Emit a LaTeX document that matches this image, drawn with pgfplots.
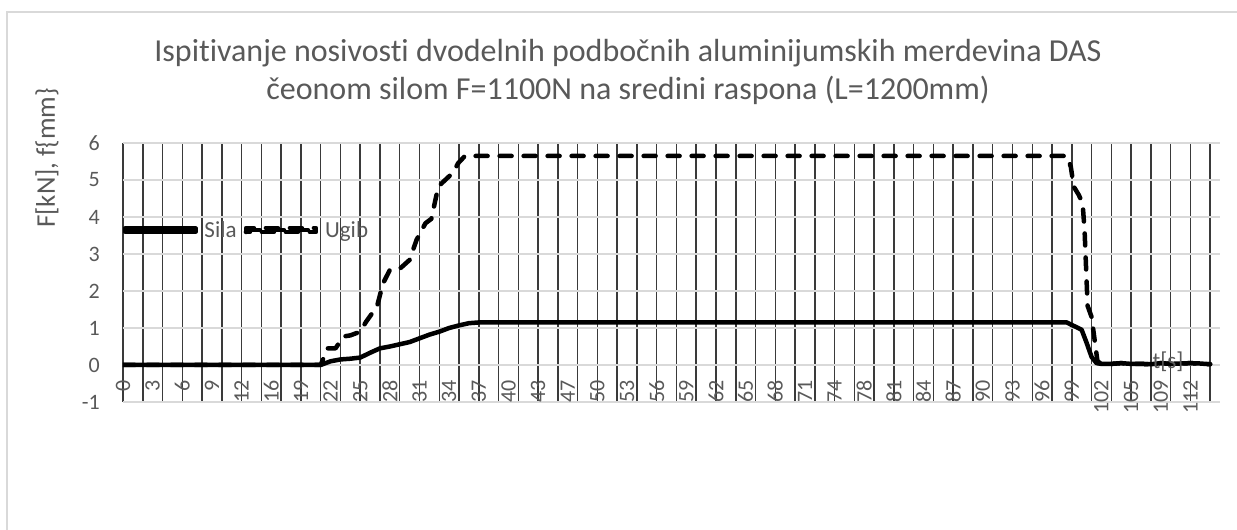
\documentclass[border=0pt]{standalone}
\usepackage{fontspec}
\setmainfont{Carlito}[Ligatures=NoCommon]
\usepackage{pgfplots}
\pgfplotsset{compat=1.18}
\definecolor{txt}{HTML}{595959}
\definecolor{hgrid}{HTML}{D9D9D9}
\definecolor{vgrid}{HTML}{3A3A3A}
\begin{document}
\begin{tikzpicture}[x=1bp,y=1bp]
\path[use as bounding box] (-123,-128) rectangle (1114,402);
\draw[hgrid, line width=1.5bp] (-116,-128) -- (-116,390) -- (1114,390);
\begin{axis}[
  at={(0,0)}, anchor=south west,
  scale only axis, width=1097bp, height=259bp,
  xmin=0, xmax=111, ymin=-1, ymax=6,
  axis line style={draw=none},
  major tick length=0pt, minor tick length=0pt,
  xtick={0,3,...,108},
  xticklabels={0,3,6,9,12,16,19,22,25,28,31,34,37,40,43,47,50,53,56,59,62,65,68,71,74,78,81,84,87,90,93,96,99,102,105,109,112},
  minor xtick={0,2,...,110},
  xmajorgrids=false, xminorgrids=true,
  minor x grid style={vgrid, line width=1.5bp},
  ytick={-1,0,...,6},
  yticklabels={-1,0,1,2,3,4,5,6},
  ymajorgrids=true,
  major y grid style={hgrid, line width=1.3bp},
  x tick label style={yshift=22bp, rotate=90, anchor=east, inner sep=0pt, text=txt, font=\fontsize{22bp}{26bp}\selectfont},
  y tick label style={xshift=-23bp, anchor=east, inner sep=0pt, text=txt, font=\fontsize{22bp}{26bp}\selectfont},
  legend columns=2,
  legend style={at={(0,0.664)}, anchor=west, draw=none, fill=none, inner sep=0pt, outer sep=0pt,
    nodes={inner sep=0pt, text=txt, font=\fontsize{23bp}{27bp}\selectfont},
    /tikz/every odd column/.append style={column sep=7bp},
    /tikz/every even column/.append style={column sep=7bp}},
  legend image code/.code={\path (0bp,-2bp) rectangle (70bp,2bp); \draw[#1] (2bp,0bp) -- (68bp,0bp);},
]
\addplot[black, line width=4.5bp, line join=round, line cap=round] coordinates {
(0,0)(1,0)(2,0)(3,0)(4,0)(5,0)(6,0)(7,0)(8,0)(9,0)(10,0)(11,0)(12,0)(13,0)(14,0)(15,0)(16,0)(17,0)(18,0)(19,0)(20,0)
(21,0.1)(22,0.15)(23,0.17)(24,0.2)(25,0.33)(26,0.45)(27,0.5)(28,0.56)(29,0.62)(30,0.72)(31,0.82)(32,0.9)(33,1.0)(34,1.07)(35,1.13)
(36,1.15)(40,1.15)(45,1.15)(50,1.15)(55,1.15)(60,1.15)(65,1.15)(70,1.15)(75,1.15)(80,1.15)(85,1.15)(90,1.15)(95,1.15)(95.5,1.15)
(96,1.08)(96.5,1.02)(97,0.95)(97.5,0.6)(98,0.22)(98.5,0.05)(99,0.03)
(100,0.03)(101,0.05)(102,0.03)(103,0.03)(104,0.02)(105,0.05)(106,0.03)(107,0.04)(108,0.05)(109,0.04)(110,0.02)
};
\addlegendentry{Sila}
\addplot[black, line width=4.5bp, line join=round, line cap=round, dash pattern=on 12bp off 12bp] coordinates {
(0,0)(1,0)(2,0)(3,0)(4,0)(5,0)(6,0)(7,0)(8,0)(9,0)(10,0)(11,0)(12,0)(13,0)(14,0)(15,0)(16,0)(17,0)(18,0)(19,0)(20,0)
(20.7,0.45)(21.5,0.45)(22.3,0.77)(23,0.8)(24,0.9)(24.6,1.17)(25.7,1.58)(26.3,2.2)(27,2.57)(28,2.6)(29,2.84)(29.7,3.38)(30.6,3.83)(31.2,3.95)(31.9,4.82)(32.4,4.95)(33.4,5.2)(33.9,5.45)(34.6,5.65)
(36,5.65)(40,5.65)(45,5.65)(50,5.65)(55,5.65)(60,5.65)(65,5.65)(70,5.65)(75,5.65)(80,5.65)(85,5.65)(90,5.65)(95,5.65)(95.5,5.65)
(95.9,5.36)(96.2,4.82)(96.7,4.6)(97.1,4.37)(97.3,3.6)(97.6,1.6)(98,1.3)(98.3,0.7)(98.6,0.1)(99,0.03)
(100,0.03)(101,0.05)(102,0.03)(103,0.03)(104,0.02)(105,0.05)(106,0.03)(107,0.04)(108,0.05)(109,0.04)(110,0.02)
};
\addlegendentry{Ugib}
\end{axis}
\node[anchor=base, text=txt, font=\fontsize{32bp}{38bp}\selectfont] at (505,340) {Ispitivanje nosivosti dvodelnih podbočnih aluminijumskih merdevina DAS};
\node[anchor=base, text=txt, font=\fontsize{32bp}{38bp}\selectfont] at (505,302) {čeonom silom F=1100N na sredini raspona (L=1200mm)};
\node[rotate=90, text=txt, inner sep=0pt, font=\fontsize{27bp}{32bp}\selectfont] at (-76,244) {F[kN], f\{mm\}};
\node[text=txt, inner sep=0pt, font=\fontsize{23bp}{27bp}\selectfont] at (1045,40) {t[s]};
\end{tikzpicture}
\end{document}
